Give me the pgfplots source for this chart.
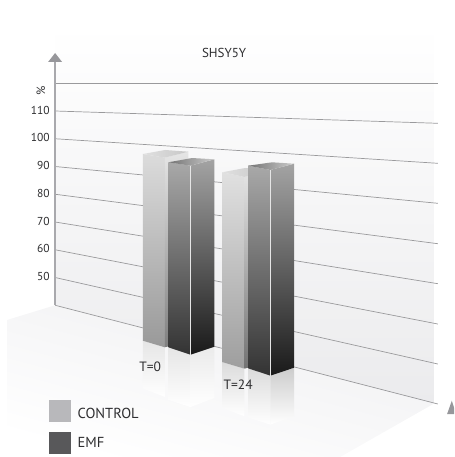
\documentclass[border=0pt]{standalone}
\usepackage{fontspec}
\setmainfont{PT Sans}
\usepackage{pgfplots}
\pgfplotsset{compat=1.18}
\definecolor{axisgrey}{HTML}{A9A9AD}
\definecolor{gridgrey}{HTML}{9A9A9C}
\definecolor{arrowgrey}{HTML}{97979B}
\definecolor{txt}{HTML}{2E2E30}
\definecolor{wallbase}{HTML}{EBEBED}
\definecolor{floorbase}{HTML}{EFEFF1}
\definecolor{controlkey}{HTML}{B8B8BB}
\definecolor{emfkey}{HTML}{58585A}
\begin{document}
\begin{tikzpicture}
\begin{axis}[
  at={(0pt,0pt)}, anchor=south west,
  scale only axis, width=454pt, height=457pt,
  xmin=0, xmax=454, ymin=-14.68, ymax=150,
  axis x line=none, axis y line=left,
  axis line style={draw=none}, major tick length=0pt,
  xtick=\empty,
  ytick={50,60,70,80,90,100,110},
  yticklabels={50,60,70,80,90,100,110},
  y tick label style={font=\fontsize{11.5}{14}\selectfont, text=txt, anchor=east, xshift=53pt, yshift=1pt},
  /pgf/number format/assume math mode=true,
  no marks,
]
% back wall and floor
\addplot[draw=none, top color=white, bottom color=wallbase] coordinates {(55,141)(434,141)(434,4.6)(55,40)} -- cycle;
\addplot[draw=none, top color=floorbase, bottom color=white, shading angle=-15] coordinates {(7,34.7)(55,40)(434,4.6)(340,-14.68)(7,-14.68)} -- cycle;
% grid lines running along the wall
\addplot[gridgrey, line width=0.7pt] coordinates {(55,120)(437.7,120)};
\addplot[gridgrey, line width=0.7pt] coordinates {(55,110)(437.7,105.57)};
\addplot[gridgrey, line width=0.7pt] coordinates {(55,100)(437.7,91.15)};
\addplot[gridgrey, line width=0.7pt] coordinates {(55,90)(437.7,76.74)};
\addplot[gridgrey, line width=0.7pt] coordinates {(55,80)(437.7,62.18)};
\addplot[gridgrey, line width=0.7pt] coordinates {(55,70)(437.7,47.77)};
\addplot[gridgrey, line width=0.7pt] coordinates {(55,60)(437.7,33.24)};
\addplot[gridgrey, line width=0.7pt] coordinates {(55,50)(437.7,18.83)};
\addplot[gridgrey, line width=0.7pt] coordinates {(55,40)(437.7,4.42)};
% axes with arrow heads
\addplot[axisgrey, line width=1.3pt] coordinates {(55,127.7)(55,40)};
\addplot[draw=none, fill=arrowgrey] coordinates {(55,130.9)(62,127.66)(48,127.66)} -- cycle;
\addplot[draw=none, fill=arrowgrey] coordinates {(447,0.8)(451.7,5.6)(456,0.8)} -- cycle;
% floor reflections
\addplot[draw=none, top color=black!10, bottom color=white] coordinates {(142.7,27.23)(164.7,24.85)(164.7,7)(142.7,10)} -- cycle;
\addplot[draw=none, top color=black!10, bottom color=white] coordinates {(168.3,24.85)(190.3,22.18)(190.3,3.3)(168.3,5.9)} -- cycle;
\addplot[draw=none, top color=black!8, bottom color=white] coordinates {(190.3,22.18)(214.3,25.06)(214.3,6.6)(190.3,3.3)} -- cycle;
\addplot[draw=none, top color=black!14, bottom color=white] coordinates {(222,19.55)(244.3,17.14)(244.3,0)(222,3)} -- cycle;
\addplot[draw=none, top color=black!14, bottom color=white] coordinates {(248,17.28)(270.3,14.62)(270.3,-3)(248,-0.5)} -- cycle;
\addplot[draw=none, top color=black!20, bottom color=white] coordinates {(270.3,14.62)(294,17.5)(294,0)(270.3,-3)} -- cycle;
% CONTROL, T=0
\addplot[draw=none, top color=black!14, bottom color=black!40] coordinates {(142.7,94.5)(164.7,93.2)(164.7,24.85)(142.7,27.23)} -- cycle;
\addplot[draw=none, top color=black!10, bottom color=black!50] coordinates {(164.7,93.2)(188.3,95.33)(188.3,27.12)(164.7,24.85)} -- cycle;
\addplot[draw=none, left color=black!12, right color=black!22] coordinates {(142.7,94.5)(165,95.95)(188.3,95.33)(164.7,93.2)} -- cycle;
% EMF, T=0
\addplot[draw=none, top color=black!34, bottom color=black!80] coordinates {(168.3,91.51)(190.3,90.29)(190.3,22.18)(168.3,24.85)} -- cycle;
\addplot[draw=none, top color=black!36, bottom color=black!90] coordinates {(190.3,90.29)(214.3,92.59)(214.3,25.06)(190.3,22.18)} -- cycle;
\addplot[draw=none, left color=black!55, right color=black!20] coordinates {(168.3,91.51)(192,93.06)(214.3,92.59)(190.3,90.29)} -- cycle;
\addplot[white!80!gray, line width=0.5pt] coordinates {(190.3,90.29)(190.3,22.18)};
% CONTROL, T=24
\addplot[draw=none, top color=black!12, bottom color=black!38] coordinates {(222,87.91)(244.3,86.22)(244.3,17.14)(222,19.55)} -- cycle;
\addplot[draw=none, top color=black!10, bottom color=black!55] coordinates {(244.3,86.22)(268,88.74)(268,19.55)(244.3,17.14)} -- cycle;
\addplot[draw=none, left color=black!12, right color=black!22] coordinates {(222,87.91)(245,89.46)(268,88.74)(244.3,86.22)} -- cycle;
% EMF, T=24
\addplot[draw=none, top color=black!34, bottom color=black!80] coordinates {(248,90.29)(270.3,88.74)(270.3,14.62)(248,17.28)} -- cycle;
\addplot[draw=none, top color=black!36, bottom color=black!90] coordinates {(270.3,88.74)(294,91.01)(294,17.5)(270.3,14.62)} -- cycle;
\addplot[draw=none, left color=black!55, right color=black!20] coordinates {(248,90.29)(272,91.51)(294,91.01)(270.3,88.74)} -- cycle;
\addplot[white!80!gray, line width=0.5pt] coordinates {(270.3,88.74)(270.3,14.62)};
% legend swatches
\addplot[draw=none, fill=controlkey] coordinates {(49,5.85)(71,5.85)(71,-2.1)(49,-2.1)} -- cycle;
\addplot[draw=none, fill=emfkey] coordinates {(49,-5.6)(71,-5.6)(71,-13.6)(49,-13.6)} -- cycle;
% labels
\node[text=txt, font=\fontsize{13}{15}\selectfont] at (axis cs:224,131) {SHSY5Y};
\node[text=txt, font=\fontsize{13.5}{15}\selectfont] at (axis cs:150,17.7) {T=0};
\node[text=txt, font=\fontsize{13.5}{15}\selectfont] at (axis cs:238,11.5) {T=24};
\node[text=txt, font=\fontsize{14.5}{16}\selectfont, anchor=west] at (axis cs:74,1.2) {CONTROL};
\node[text=txt, font=\fontsize{14.5}{16}\selectfont, anchor=west] at (axis cs:74,-9.6) {EMF};
\node[text=txt, font=\fontsize{12}{12}\selectfont, rotate=90] at (axis cs:40.7,117.3) {\%};
\end{axis}
\end{tikzpicture}
\end{document}
